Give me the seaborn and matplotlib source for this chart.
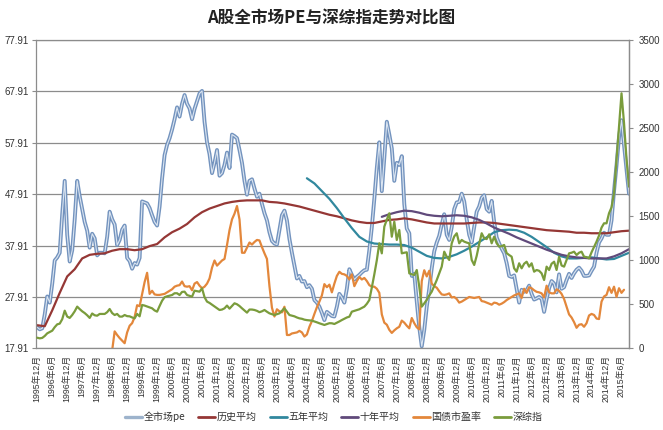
import matplotlib
matplotlib.use("Agg")
import matplotlib.pyplot as plt
import seaborn as sns
import numpy as np
import pandas as pd
from matplotlib.lines import Line2D

# ---------------- data ----------------
title = "A股全市场PE与深综指走势对比图"
start_month = "1995-12"
n_months = 238

tick_labels = ["1995年12月", "1996年6月", "1996年12月", "1997年6月", "1997年12月",
               "1998年6月", "1998年12月", "1999年6月", "1999年12月", "2000年6月",
               "2000年12月", "2001年6月", "2001年12月", "2002年6月", "2002年12月",
               "2003年6月", "2003年12月", "2004年6月", "2004年12月", "2005年6月",
               "2005年12月", "2006年6月", "2006年12月", "2007年6月", "2007年12月",
               "2008年6月", "2008年12月", "2009年6月", "2009年12月", "2010年6月",
               "2010年12月", "2011年6月", "2011年12月", "2012年6月", "2012年12月",
               "2013年6月", "2013年12月", "2014年6月", "2014年12月", "2015年6月"]
tick_months = ["1995-12", "1996-06", "1996-12", "1997-06", "1997-12", "1998-06", "1998-12",
               "1999-06", "1999-12", "2000-06", "2000-12", "2001-06", "2001-12", "2002-06",
               "2002-12", "2003-06", "2003-12", "2004-06", "2004-12", "2005-06", "2005-12",
               "2006-06", "2006-12", "2007-06", "2007-12", "2008-06", "2008-12", "2009-06",
               "2009-12", "2010-06", "2010-12", "2011-06", "2011-12", "2012-06", "2012-12",
               "2013-06", "2013-12", "2014-06", "2014-12", "2015-06"]

left_ticks = [17.91, 27.91, 37.91, 47.91, 57.91, 67.91, 77.91]
right_ticks = [0, 500, 1000, 1500, 2000, 2500, 3000, 3500]

# 全市场pe, monthly from 1995-12
pe = [22.0, 21.6, 21.8, 24.5, 28.0, 26.8, 30.5, 35.0, 35.6, 36.5,
      44.0, 50.5, 40.0, 34.8, 37.0, 43.0, 50.5, 47.5, 45.0, 42.5,
      40.8, 37.5, 40.2, 39.3, 36.0, 36.5, 36.5, 36.4, 39.6, 44.5,
      43.0, 42.0, 38.0, 39.0, 41.0, 41.8, 35.5, 34.9, 33.4, 34.5,
      34.2, 35.5, 46.5, 46.3, 46.1, 45.2, 43.8, 42.5, 41.8, 45.5,
      51.0, 55.5, 57.5, 58.8, 60.5, 62.5, 64.8, 63.0, 65.5, 67.2,
      65.5, 64.6, 62.5, 64.5, 66.0, 67.5, 68.0, 62.0, 58.0, 55.7,
      52.0, 54.0, 56.5, 51.5, 52.0, 53.6, 56.0, 53.0, 59.5, 59.2,
      58.8, 56.5, 54.0, 50.5, 47.8, 50.5, 50.8, 49.0, 47.4, 48.0,
      46.0, 44.2, 42.8, 40.5, 38.8, 38.3, 38.1, 41.0, 43.8, 44.7,
      42.8, 39.2, 36.5, 34.0, 31.5, 32.0, 30.9, 31.0, 29.8, 30.2,
      29.5, 27.3, 26.8, 26.0, 24.8, 23.4, 25.0, 24.6, 24.2, 24.1,
      26.0, 28.5, 27.8, 26.8, 29.5, 33.3, 32.2, 31.3, 31.8, 32.2,
      32.7, 33.1, 33.2, 37.0, 41.5, 47.0, 53.0, 58.0, 48.5, 55.0,
      62.0, 59.5, 56.8, 50.5, 54.0, 53.6, 55.3, 46.0, 41.2, 40.3,
      32.0, 32.4, 27.0, 22.0, 18.3, 21.5, 26.0, 29.5, 33.5, 36.8,
      38.5, 39.8, 42.0, 44.0, 40.0, 39.0, 41.5, 45.0, 46.3, 46.4,
      48.0, 46.5, 43.0, 40.0, 38.5, 41.5, 44.5, 45.5, 47.2, 47.7,
      45.0, 44.5, 46.6, 42.5, 39.5, 38.3, 37.3, 36.4, 34.5, 32.0,
      31.8, 32.1, 29.5, 26.8, 29.3, 28.9, 29.2, 30.1, 28.5, 27.4,
      27.6, 27.9, 27.5, 25.0, 27.5, 29.6, 31.0, 30.5, 28.8, 32.3,
      29.5, 29.8, 31.2, 32.4, 31.6, 32.5, 33.2, 33.6, 33.0, 32.0,
      32.0, 32.1, 33.0, 33.8, 36.5, 38.5, 39.3, 40.4, 40.0, 40.0,
      42.8, 48.5, 53.5, 59.0, 62.3, 57.5, 52.5, 48.0]

# 深综指, monthly from 1995-12 (right axis)
szzz = [120, 113, 118, 140, 170, 185, 200, 240, 272, 280,
        330, 427, 360, 345, 378, 420, 473, 445, 420, 400,
        375, 345, 395, 375, 370, 390, 390, 390, 410, 446,
        400, 378, 390, 360, 360, 378, 365, 363, 350, 340,
        390, 363, 492, 485, 475, 465, 454, 430, 416, 480,
        540, 580, 590, 598, 605, 625, 625, 605, 640, 643,
        605, 595, 586, 654, 648, 643, 681, 580, 530, 515,
        495, 475, 455, 435, 440, 454, 485, 450, 480, 511,
        500, 480, 454, 430, 405, 440, 440, 435, 425, 410,
        420, 435, 415, 397, 388, 378, 388, 397, 425, 454,
        415, 378, 370, 363, 350, 340, 335, 325, 320, 317,
        314, 305, 295, 284, 275, 265, 275, 285, 284, 276,
        290, 305, 321, 335, 350, 359, 416, 425, 435, 443,
        458, 473, 505, 548, 690, 840, 1000, 1192, 1078, 1381,
        1460, 1533, 1267, 1437, 1230, 1343, 1078, 1085, 1090, 851,
        840, 832, 889, 700, 473, 510, 550, 600, 643, 710,
        775, 850, 927, 1097, 1040, 1003, 1192, 1270, 1306, 1192,
        1230, 1211, 1200, 1192, 1003, 946, 1050, 1184, 1306, 1250,
        1240, 1294, 1192, 1267, 1192, 1154, 1160, 1173, 1080, 1059,
        1040, 908, 870, 965, 908, 960, 983, 927, 965, 870,
        889, 880, 851, 775, 927, 889, 960, 983, 889, 1040,
        940, 927, 1003, 1078, 1085, 1097, 1059, 1085, 1097, 1040,
        1035, 1021, 1090, 1150, 1211, 1280, 1370, 1419, 1419, 1533,
        1600, 1760, 2140, 2530, 2895, 2560, 2150, 1835]

# 国债市盈率, monthly from 1998-06
bond_start = "1998-06"
bond_pe = [17.5, 21.2, 20.5, 19.9, 19.4, 18.9, 21.0, 22.3, 22.8, 24.0,
           26.3, 26.1, 28.5, 30.8, 32.6, 28.5, 29.1, 28.4, 28.3, 28.3,
           28.4, 28.5, 28.8, 29.1, 29.4, 29.9, 30.1, 30.2, 30.9, 30.0,
           29.9, 30.0, 29.2, 30.5, 30.8, 30.1, 29.6, 29.9, 30.5, 31.5,
           33.6, 35.0, 34.0, 34.5, 35.0, 35.3, 38.0, 40.9, 43.0, 44.1,
           45.6, 43.0, 36.5, 36.5, 37.5, 38.5, 38.1, 38.6, 39.0, 38.9,
           37.6, 36.4, 35.3, 30.0, 25.8, 24.1, 25.5, 25.1, 24.9, 26.0,
           20.5, 20.5, 20.8, 20.9, 21.0, 21.3, 21.0, 20.2, 20.6, 22.1,
           23.2, 24.6, 25.9, 27.0, 28.2, 30.4, 29.8, 30.3, 28.8, 30.5,
           32.0, 32.8, 32.4, 32.3, 32.0, 31.3, 32.3, 30.0, 31.0, 31.8,
           31.3, 31.6, 31.0, 30.2, 29.9, 29.9, 29.5, 28.7, 24.5, 22.9,
           22.5, 21.5, 20.9, 21.4, 21.8, 22.1, 23.3, 22.9, 22.3, 21.8,
           23.8, 22.8, 22.0, 21.6, 31.0, 33.1, 31.9, 33.0, 30.5, 30.0,
           29.7, 29.0, 28.4, 28.3, 28.4, 28.6, 27.8, 27.9, 27.5, 26.8,
           27.0, 27.3, 27.6, 27.9, 27.8, 27.7, 27.8, 27.9, 27.1, 27.0,
           26.8, 26.6, 26.4, 26.8, 26.7, 26.4, 26.6, 26.9, 27.3, 27.6,
           27.9, 28.2, 28.4, 28.6, 27.7, 29.5, 28.7, 29.8, 29.6, 29.2,
           28.9, 28.8, 28.6, 27.8, 30.1, 28.8, 28.6, 28.6, 29.4, 29.1,
           28.5, 27.5, 26.0, 24.5, 23.9, 23.0, 21.9, 22.5, 22.6, 22.1,
           22.8, 24.3, 24.6, 24.4, 23.7, 23.6, 27.0, 28.0, 28.3, 29.8,
           28.7, 29.9, 27.9, 29.6, 28.7, 29.3]

# 历史平均, quarterly readings from 1995-12
hist_start = "1995-12"
hist_avg = [22.4, 22.2, 25.3, 28.7, 31.9, 33.3, 35.4, 36.1, 36.3, 36.4,
            36.9, 37.2, 37.2, 37.0, 37.2, 37.8, 38.2, 39.5, 40.5, 41.2,
            42.1, 43.4, 44.4, 45.1, 45.6, 46.1, 46.4, 46.6, 46.7, 46.7,
            46.7, 46.4, 46.3, 46.1, 45.8, 45.5, 45.1, 44.7, 44.3, 43.9,
            43.6, 43.2, 42.8, 42.5, 42.3, 42.3, 42.6, 42.9, 43.0, 43.2,
            43.0, 42.7, 42.4, 42.2, 42.2, 42.2, 42.2, 42.2, 42.3, 42.4,
            42.4, 42.3, 42.1, 41.9, 41.7, 41.5, 41.3, 41.1, 40.9, 40.8,
            40.7, 40.6, 40.4, 40.4, 40.3, 40.3, 40.3, 40.5, 40.7, 40.8]

# 五年平均, quarterly readings from 2004-12
five_start = "2004-12"
five_avg = [51.0, 50.0, 48.5, 47.0, 45.2, 43.2, 41.3, 39.6, 38.7, 38.3,
            38.2, 38.1, 38.1, 38.0, 37.5, 36.7, 35.9, 35.5, 35.4, 35.7,
            36.2, 36.9, 37.7, 38.6, 39.5, 40.5, 40.9, 41.0, 40.9, 40.4,
            39.6, 38.6, 37.6, 36.5, 35.8, 35.4, 35.4, 35.5, 35.6, 35.4,
            35.2, 35.3, 35.9, 36.5]

# 十年平均, quarterly readings from 2007-06
ten_start = "2007-06"
ten_avg = [43.5, 44.0, 44.4, 44.7, 44.6, 44.3, 43.9, 43.7, 43.6, 43.7,
           43.8, 43.7, 43.4, 42.9, 42.2, 41.4, 40.8, 40.2, 39.5, 38.9,
           38.3, 37.7, 37.1, 36.6, 36.1, 35.8, 35.6, 35.5, 35.4, 35.4,
           35.4, 35.8, 36.4, 37.2]

series_names = ["全市场pe", "历史平均", "五年平均", "十年平均", "国债市盈率", "深综指"]
colors = {"全市场pe": "#7c9cc6", "历史平均": "#953735", "五年平均": "#31889e",
          "十年平均": "#604a7b", "国债市盈率": "#e3873b", "深综指": "#7a9c3c"}

# ---------------- build tables ----------------
months = pd.period_range(start_month, periods=n_months, freq="M")
base = months[0]


def month_index(p):
    return (p - base).n


main_df = pd.DataFrame({"m": [month_index(p) for p in months], "pe": pe, "szzz": szzz})
bond_months = pd.period_range(bond_start, periods=len(bond_pe), freq="M")
bond_df = pd.DataFrame({"m": [month_index(p) for p in bond_months], "v": bond_pe})


def quarterly(start, vals):
    ps = pd.period_range(start, periods=3 * len(vals), freq="M")[::3]
    idx = [min(month_index(p), n_months - 1) for p in ps]
    return pd.DataFrame({"m": idx, "v": vals})


hist_df = quarterly(hist_start, hist_avg)
five_df = quarterly(five_start, five_avg)
ten_df = quarterly(ten_start, ten_avg)
tick_pos = [month_index(pd.Period(t, freq="M")) for t in tick_months]

# ---------------- plot ----------------
sns.set_style("white")
plt.rcParams["font.family"] = ["Liberation Sans", "Noto Sans CJK SC", "DejaVu Sans"]

fig = plt.figure(figsize=(6.63, 4.30), dpi=100)
fig.subplots_adjust(left=36 / 663, right=629 / 663, bottom=(430 - 348.3) / 430,
                    top=(430 - 40) / 430)
ax = fig.add_subplot(111)

grid_c = "#8c8c8c"
lw = 1.6

sns.lineplot(data=main_df, x="m", y="pe", ax=ax, color="#7393be", linewidth=2.8, legend=False)
sns.lineplot(data=main_df, x="m", y="pe", ax=ax, color="#dbe5f1", linewidth=0.8, legend=False)
sns.lineplot(data=hist_df, x="m", y="v", ax=ax, color=colors["历史平均"], linewidth=lw, legend=False)
sns.lineplot(data=five_df, x="m", y="v", ax=ax, color=colors["五年平均"], linewidth=lw, legend=False)
sns.lineplot(data=ten_df, x="m", y="v", ax=ax, color=colors["十年平均"], linewidth=lw, legend=False)
sns.lineplot(data=bond_df, x="m", y="v", ax=ax, color=colors["国债市盈率"], linewidth=lw, legend=False)

ax.set_ylim(left_ticks[0], left_ticks[-1])
ax.set_xlim(-0.5, n_months - 1)
ax.set_yticks(left_ticks)
ax.set_yticklabels([f"{t:.2f}" for t in left_ticks])
ax.set_xticks(tick_pos)
ax.set_xticklabels(tick_labels, rotation=90, fontsize=6.3)
ax.set_xlabel("")
ax.set_ylabel("")
ax.yaxis.grid(True, color=grid_c, linewidth=0.9)
ax.xaxis.grid(False)
ax.set_axisbelow(True)
for s in ["left", "bottom", "top", "right"]:
    ax.spines[s].set_color(grid_c)
    ax.spines[s].set_linewidth(0.9)
ax.tick_params(axis="y", which="both", direction="out", length=3, width=0.8,
               color=grid_c, labelsize=7, labelcolor="#333333", pad=2)
ax.tick_params(axis="x", direction="out", length=3, width=0.8, color=grid_c,
               labelcolor="#333333", pad=2)

ax2 = ax.twinx()
sns.lineplot(data=main_df, x="m", y="szzz", ax=ax2, color=colors["深综指"], linewidth=lw, legend=False)
ax2.set_ylim(right_ticks[0], right_ticks[-1])
ax2.set_yticks(right_ticks)
ax2.set_yticklabels([str(t) for t in right_ticks])
ax2.set_ylabel("")
ax2.grid(False)
for s in ["left", "bottom", "top"]:
    ax2.spines[s].set_visible(False)
ax2.spines["right"].set_color(grid_c)
ax2.spines["right"].set_linewidth(0.9)
ax2.tick_params(axis="y", direction="out", length=3, width=0.8, color=grid_c,
                labelsize=7, labelcolor="#333333", pad=4)

fig.text(0.5, 1 - 17.5 / 430, title, ha="center", va="center", fontsize=12,
         fontweight="bold", family=["Noto Sans CJK SC", "DejaVu Sans"], color="#222222")

handles = [Line2D([0], [0], color="#9db3cc", lw=2.4)]
handles += [Line2D([0], [0], color=colors[n], lw=2.0) for n in series_names[1:]]
fig.legend(handles, series_names, loc="center", bbox_to_anchor=(334 / 663, 1 - 417 / 430),
           ncol=6, frameon=False, fontsize=7.2, handlelength=1.7, handletextpad=0.15,
           columnspacing=1.3, labelcolor="#333333",
           prop={"family": ["Noto Sans CJK SC", "DejaVu Sans"], "size": 7.2})

fig.savefig("out.png", dpi=100)
